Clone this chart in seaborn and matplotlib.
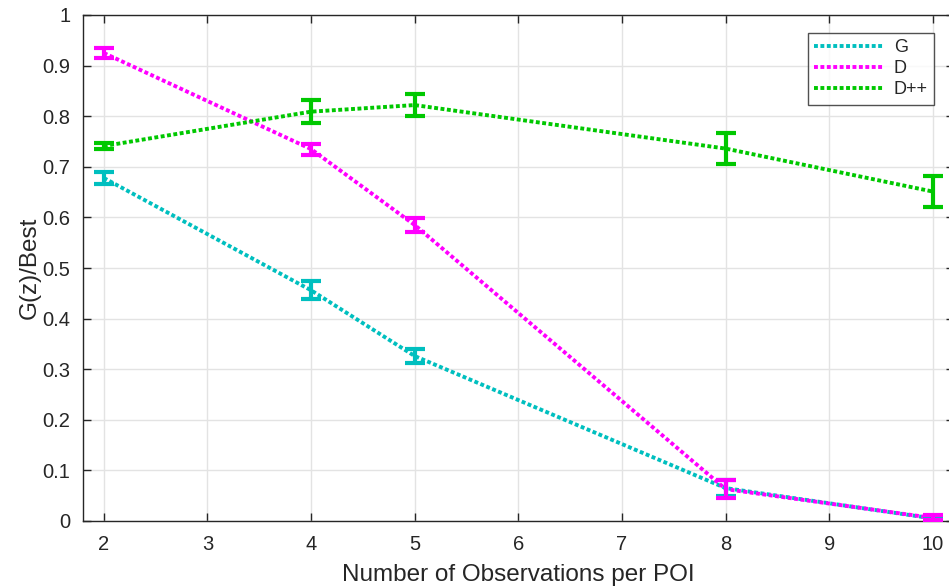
import numpy as np
import pandas as pd
import matplotlib
matplotlib.use("Agg")
import matplotlib.pyplot as plt
import seaborn as sns

# Observations per POI and normalised objective G(z)/Best per method
obs = [2, 4, 5, 8, 10]
g_mean = [0.678, 0.456, 0.326, 0.065, 0.005]
g_err = [0.012, 0.018, 0.014, 0.016, 0.004]
d_mean = [0.925, 0.735, 0.585, 0.063, 0.006]
d_err = [0.010, 0.011, 0.014, 0.018, 0.005]
dpp_mean = [0.741, 0.809, 0.822, 0.736, 0.651]
dpp_err = [0.006, 0.023, 0.021, 0.030, 0.031]

methods = ["G", "D", "D++"]
colors = {"G": "#00BFBF", "D": "#FF00FF", "D++": "#00C800"}

x_ticks = [2, 3, 4, 5, 6, 7, 8, 9, 10]
y_ticks = [0, 0.1, 0.2, 0.3, 0.4, 0.5, 0.6, 0.7, 0.8, 0.9, 1.0]
y_tick_labels = ["0", "0.1", "0.2", "0.3", "0.4", "0.5", "0.6", "0.7", "0.8", "0.9", "1"]

df = pd.DataFrame({
    "obs": obs * 3,
    "score": g_mean + d_mean + dpp_mean,
    "err": g_err + d_err + dpp_err,
    "method": ["G"] * 5 + ["D"] * 5 + ["D++"] * 5,
})

sns.set_theme(style="white")
plt.rcParams["font.family"] = ["Liberation Sans", "DejaVu Sans"]

W, H = 949, 586
fig = plt.figure(figsize=(W / 100, H / 100), dpi=100)
left, right, top, bottom = 83, 953.7, 15, 521
ax = fig.add_axes([left / W, 1 - bottom / H, (right - left) / W, (bottom - top) / H])

lw = 2.8
dot = (0, (1.0, 0.65))
sns.lineplot(data=df, x="obs", y="score", hue="method", hue_order=methods,
             palette=colors, ax=ax, linewidth=lw, legend=True, errorbar=None)
for line in ax.get_lines():
    line.set_linestyle(dot)
    line.set_dash_capstyle("butt")

for m in methods:
    sub = df[df["method"] == m]
    ax.errorbar(sub["obs"], sub["score"], yerr=sub["err"], fmt="none",
                ecolor=colors[m], elinewidth=3.0, capsize=7.5, capthick=3.0, zorder=3)

ax.set_xlim(1.8, 10.2)
ax.set_ylim(0, 1)
ax.set_xticks(x_ticks)
ax.set_xticklabels([str(t) for t in x_ticks])
ax.set_yticks(y_ticks)
ax.set_yticklabels(y_tick_labels)

ax.grid(True, color="#E3E3E3", linewidth=1.0)
ax.set_axisbelow(True)
for s in ax.spines.values():
    s.set_color("#262626")
    s.set_linewidth(1.0)
    s.set_visible(True)
ax.tick_params(axis="both", which="both", direction="in", length=6, width=1.0,
               color="#262626", labelcolor="#262626", labelsize=14.5,
               top=True, right=True, bottom=True, left=True)
ax.tick_params(axis="x", pad=10)
ax.tick_params(axis="y", pad=9)

ax.set_xlabel("Number of Observations per POI", fontsize=17.5, color="#262626", labelpad=7)
ax.set_ylabel("G(z)/Best", fontsize=17.5, color="#262626", labelpad=1)

leg = ax.legend(title=None, loc="upper right", bbox_to_anchor=((934 - left) / (right - left), (521 - 33) / (bottom - top)),
                fontsize=13, frameon=True, fancybox=False, handlelength=3.8,
                borderpad=0.35, labelspacing=0.22, handletextpad=0.6, borderaxespad=0)
leg.get_frame().set_edgecolor("#262626")
leg.get_frame().set_linewidth(1.0)
for h in leg.get_lines():
    h.set_linestyle(dot)
    h.set_linewidth(lw)

fig.savefig("out.png", dpi=100)
